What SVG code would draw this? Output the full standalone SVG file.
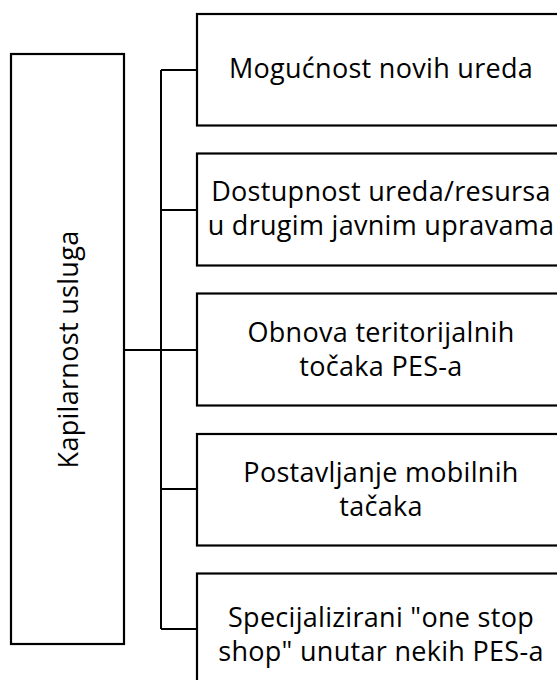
<svg xmlns="http://www.w3.org/2000/svg" width="557" height="680" viewBox="0 0 557 680">
<style>
.box{fill:#fff;stroke:#000;stroke-width:2.2}
.lbl{font-family:"Open Sans","Noto Sans",sans-serif;font-size:27px;letter-spacing:0.3px;fill:#000;text-anchor:middle}
.con{fill:none;stroke:#000;stroke-width:2}
</style>
<rect width="557" height="680" fill="#fff"/>
<g id="connectors">
<path class="con" d="M124 350H161M161 70V629M161 70H197M161 210H197M161 350H197M161 489H197M161 629H197"/>
</g>
<g id="root">
<rect class="box" x="11" y="54" width="113" height="590"/>
<text class="lbl" transform="translate(78 349.5) rotate(-90)" x="0" y="0">Kapilarnost usluga</text>
</g>
<g id="n1">
<rect class="box" x="197" y="14" width="368" height="111.5"/>
<text class="lbl" x="381" y="78">Mogućnost novih ureda</text>
</g>
<g id="n2">
<rect class="box" x="197" y="153.5" width="368" height="112"/>
<text class="lbl"><tspan x="381" y="200.5">Dostupnost ureda/resursa</tspan><tspan x="381" y="234.5">u drugim javnim upravama</tspan></text>
</g>
<g id="n3">
<rect class="box" x="197" y="293.5" width="368" height="112"/>
<text class="lbl"><tspan x="381" y="342">Obnova teritorijalnih</tspan><tspan x="381" y="376">točaka PES-a</tspan></text>
</g>
<g id="n4">
<rect class="box" x="197" y="434" width="368" height="111.5"/>
<text class="lbl"><tspan x="381" y="482">Postavljanje mobilnih</tspan><tspan x="381" y="516">tačaka</tspan></text>
</g>
<g id="n5">
<rect class="box" x="197" y="573.5" width="368" height="112"/>
<text class="lbl"><tspan x="381" y="626.5">Specijalizirani "one stop</tspan><tspan x="381" y="660.5">shop" unutar nekih PES-a</tspan></text>
</g>
</svg>
